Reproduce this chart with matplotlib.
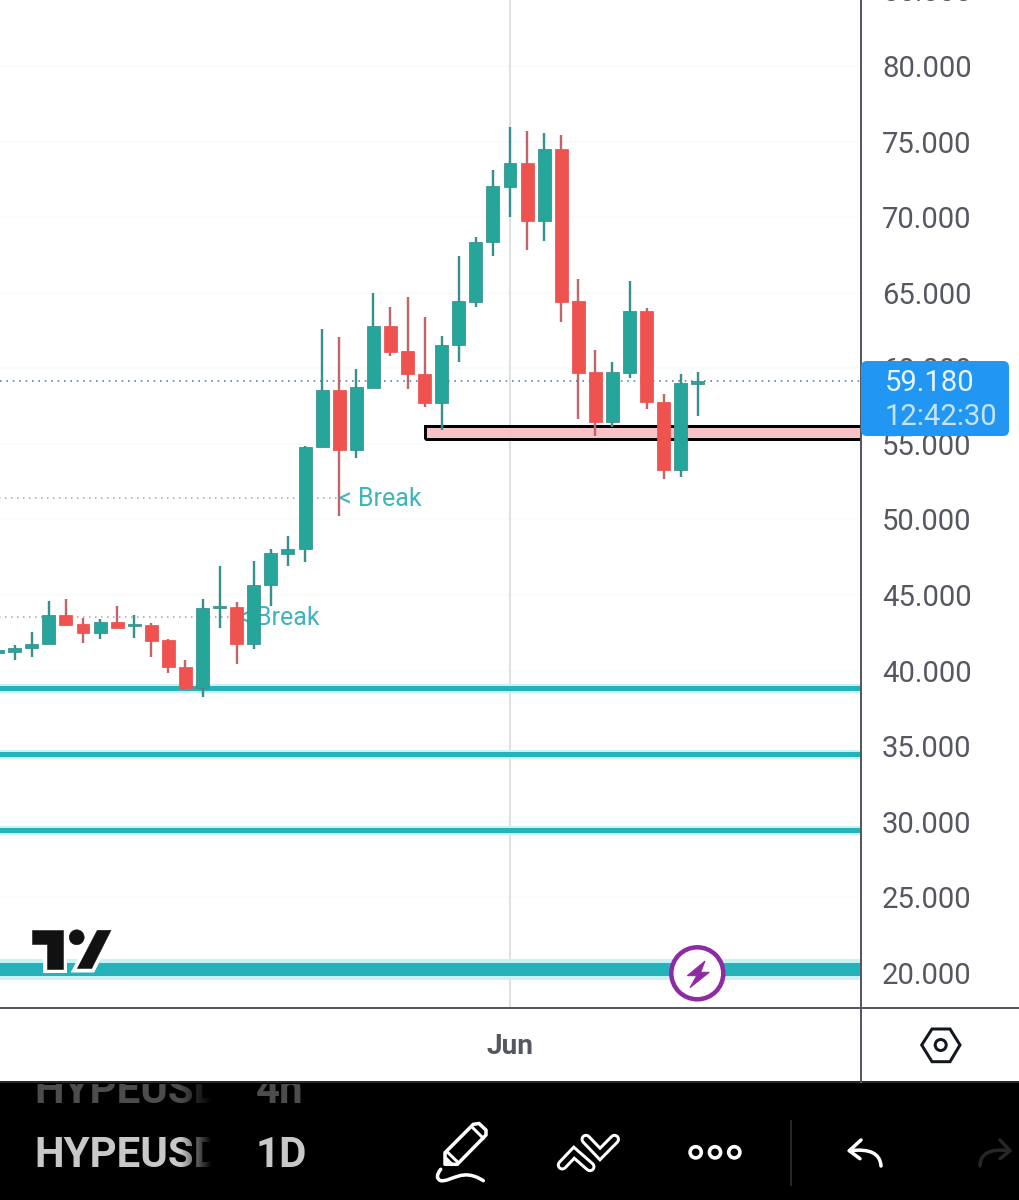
import numpy as np
from matplotlib import pyplot as plt
from matplotlib.patches import Circle, FancyBboxPatch, PathPatch, Polygon, Rectangle
from matplotlib.path import Path

plt.rcParams["font.family"] = ["Roboto", "DejaVu Sans"]

# bar index relative to the Jun bar
bars = list(range(-30, 12))
opens = [41.20, 41.25, 41.48, 41.74, 43.68, 43.09, 42.47, 43.24, 42.95, 43.00, 42.01, 40.24, 38.83, 44.14,
         44.19, 41.78, 45.69, 47.72, 48.05, 54.79, 58.57, 54.60, 58.72, 62.80, 61.13, 59.62, 57.73, 61.54,
         64.41, 68.36, 72.01, 73.60, 69.76, 74.49, 64.43, 59.74, 56.47, 59.71, 63.81, 57.79, 53.27, 58.98]
highs = [41.40, 41.70, 42.58, 44.63, 44.76, 43.50, 43.44, 44.30, 43.68, 43.13, 42.07, 40.69, 44.76, 46.94,
         44.52, 47.23, 48.05, 48.91, 54.86, 62.62, 62.07, 59.93, 64.98, 64.05, 64.74, 63.37, 62.14, 67.43,
         68.69, 73.10, 75.98, 75.68, 75.55, 75.43, 65.93, 61.19, 60.44, 65.76, 63.99, 58.32, 59.60, 59.73]
lows = [41.10, 40.70, 40.92, 41.74, 42.97, 41.85, 42.11, 42.84, 42.16, 40.92, 39.87, 38.83, 38.24, 42.80,
        40.42, 41.41, 44.30, 46.92, 47.17, 54.79, 50.23, 54.09, 58.68, 60.83, 58.65, 57.46, 55.90, 60.40,
        64.04, 67.45, 70.03, 67.83, 68.44, 63.08, 56.67, 55.54, 56.14, 59.34, 57.33, 52.66, 52.83, 56.85]
closes = [41.35, 41.52, 41.76, 43.68, 43.04, 42.47, 43.24, 42.84, 43.09, 41.98, 40.24, 38.83, 44.12, 44.28,
          41.78, 45.69, 47.76, 48.05, 54.82, 58.57, 54.60, 58.76, 62.80, 61.10, 59.60, 57.73, 61.56, 64.43,
          68.38, 72.04, 73.60, 69.76, 74.49, 64.41, 59.71, 56.47, 59.74, 63.81, 57.79, 53.27, 59.01, 59.18]

price_ticks = [20, 25, 30, 35, 40, 45, 50, 55, 60, 65, 70, 75, 80]
top_tick = 85
support_levels = [38.85, 34.49, 29.49]
heavy_level = 20.26
last_price = 59.18
countdown = "12:42:30"
zone_low = 55.32
zone_high = 56.18
zone_start = -4.98
break_prices = [51.42, 43.55]
break_bars = [-10, -16]

GREEN = "#26a69a"
RED = "#ef5350"
GREEN_WICK = "#38908c"
RED_WICK = "#bf666a"
TEAL = "#25b3bb"
HALO = "#c9f2f5"
AXIS = "#555860"


def px(n):
    return n * 0.72


fig = plt.figure(figsize=(10.19, 12), dpi=100, facecolor="white")
ax = fig.add_axes([0, 192 / 1200, 861 / 1019, 1008 / 1200])

ax.yaxis.tick_right()
ax.set_yticks(price_ticks)
ax.set_yticklabels(["%.3f" % p for p in price_ticks])
ax.set_xticks([0])
ax.set_xticklabels(["Jun"], fontweight="bold")
ax.tick_params(axis="y", length=0, pad=px(21), labelsize=px(29.3), labelcolor=AXIS)
ax.tick_params(axis="x", length=0, pad=px(25), labelsize=px(28), labelcolor=AXIS)
for side in ["top", "left", "right", "bottom"]:
    ax.spines[side].set_visible(False)

for p in price_ticks:
    ax.axhline(p, color="#f9fafb", lw=px(1.5), zorder=0)
ax.axvline(0, color="#d6d6d6", lw=px(1.5), zorder=1)

# support lines with their halo
for level in support_levels:
    ax.axhline(level, color=HALO, lw=px(9), zorder=2)
    ax.axhline(level, color=TEAL, lw=px(5), zorder=2.1)
ax.axhline(heavy_level, color=HALO, lw=px(21), zorder=2)
ax.axhline(heavy_level, color=TEAL, lw=px(13), zorder=2.1)

ax.axhline(last_price, color="#4f7fa6", lw=px(1.6), ls=(0, (1, 3)), zorder=2.2)
for price, bar in zip(break_prices, break_bars):
    ax.plot([-30, bar], [price, price], color="#9aa0ac", lw=px(1.5), ls=(0, (1, 3)), zorder=2.2)
    ax.annotate("< Break", (bar, price), xytext=(0, px(-1)), textcoords="offset points", color="#3fb4ba",
                fontsize=px(25), va="center", ha="left", zorder=2.3)

ax.add_patch(Rectangle((zone_start, zone_low), 40, zone_high - zone_low, facecolor="#f8bcc2", alpha=0.9,
                       edgecolor="none", zorder=2.4))
ax.add_patch(Rectangle((zone_start, zone_low), 40, zone_high - zone_low, facecolor="none",
                       edgecolor="black", lw=px(3), zorder=2.5))

bars = np.array(bars)
opens = np.array(opens)
highs = np.array(highs)
lows = np.array(lows)
closes = np.array(closes)
up = closes >= opens
ax.vlines(bars[up], lows[up], highs[up], color=GREEN_WICK, lw=px(2.4), zorder=3)
ax.vlines(bars[~up], lows[~up], highs[~up], color=RED_WICK, lw=px(2.4), zorder=3)
ax.bar(bars[up], (closes - opens)[up], bottom=opens[up], width=0.76, color=GREEN, edgecolor=GREEN_WICK,
       lw=px(0.8), zorder=3.1)
ax.bar(bars[~up], (closes - opens)[~up], bottom=opens[~up], width=0.76, color=RED, edgecolor=RED,
       lw=px(0.8), zorder=3.1)

# limits last, the ticks and bars above would widen them
ax.set_xlim(-29.86, 20.55)
ax.set_ylim(17.685, 84.365)

# the 85 label sits above the visible range, only its lower edge shows
ax.text(1 + 21 / 861, top_tick, "%.3f" % top_tick, transform=ax.get_yaxis_transform(), color=AXIS,
        fontsize=px(29.3), va="center_baseline", ha="left", clip_on=False)

# screen furniture lives on an overlay in pixel coordinates
ui = fig.add_axes([0, 0, 1, 1], facecolor="none")
ui.axis("off")

ui.plot([0, 1019], [1008, 1008], color=AXIS, lw=px(2))
ui.plot([861, 861], [0, 1082], color=AXIS, lw=px(2))
ui.add_patch(Rectangle((0, 1081), 1019, 119, facecolor="black", edgecolor="none"))
ui.add_patch(Rectangle((0, 1081), 1019, 2, facecolor="#2a2a2a", edgecolor="none"))

ui.add_patch(FancyBboxPatch((861, 361), 148, 75, boxstyle="round,pad=0,rounding_size=6",
                            facecolor="#2196f3", edgecolor="none", zorder=4))
ui.text(885, 383, "%.3f" % last_price, color="#e8f4fe", fontsize=px(29.3), va="center", zorder=5)
ui.text(885, 417, countdown, color="#c4e4fc", fontsize=px(29.3), va="center", zorder=5)

# TradingView mark
logo_t = [(32, 930.3), (63.5, 930.3), (63.5, 968.5), (46.7, 968.5), (46.7, 943.5), (32, 943.5)]
logo_slash = [(97.3, 930.3), (111, 930.3), (91.7, 968.5), (77.3, 968.5)]
for edge, lw, z in [("white", 8, 4), ("#111111", 0.5, 4.5)]:
    ui.add_patch(Polygon(logo_t, facecolor="#111111", edgecolor=edge, lw=px(lw), zorder=z))
    ui.add_patch(Polygon(logo_slash, facecolor="#111111", edgecolor=edge, lw=px(lw), zorder=z))
    ui.add_patch(Circle((76.7, 937.3), 7.5, facecolor="#111111", edgecolor=edge, lw=px(lw), zorder=z))

# purple bolt badge
ui.add_patch(Circle((697.3, 973.3), 26, facecolor="white", edgecolor="#8e2aa3", lw=px(4.5), zorder=4))
ui.add_patch(Polygon([(705, 961), (687.3, 975.7), (696.7, 975.7), (690, 987.7), (709.3, 972.3), (700.7, 972.3)],
                     facecolor="#8e2aa3", edgecolor="#8e2aa3", lw=px(1), zorder=5))

# chart settings hexagon
ui.add_patch(Polygon([(921.7, 1045), (932, 1029), (950, 1029), (960, 1045), (950, 1061.7), (932, 1061.7)],
                     facecolor="white", edgecolor="#131722", lw=px(3), zorder=4))
ui.add_patch(Circle((940.7, 1045), 5.5, facecolor="white", edgecolor="#131722", lw=px(3), zorder=5))

# symbol picker
clip_rows = Rectangle((0, 1084), 212, 116, transform=ui.transData)
clip_times = Rectangle((212, 1084), 200, 116, transform=ui.transData)
for base, colour, name, frame in [(1103, "#4c4c4c", "HYPEUSD", "4h"), (1166.7, "#c8c8c8", "HYPEUSD", "1D")]:
    sym = ui.text(34, base, name, color=colour, fontsize=px(42), fontweight=600, va="baseline", clip_on=True)
    sym.set_clip_path(clip_rows)
    tf = ui.text(256, base, frame, color=colour, fontsize=px(42), fontweight=600, va="baseline", clip_on=True)
    tf.set_clip_path(clip_times)
fade = np.zeros((1, 32, 4))
fade[0, :, 3] = np.linspace(0, 1, 32)
ui.imshow(fade, extent=(180, 212, 1180, 1084), aspect="auto", zorder=3)

# pencil
white = dict(facecolor="none", edgecolor="white", lw=px(3.5), capstyle="round", joinstyle="round", zorder=4)
ui.add_patch(Polygon([(445, 1152.7), (473.3, 1124.3), (479, 1123.5), (486, 1130), (486, 1135), (457.3, 1164.3),
                      (445, 1164.3)], **white))
ui.plot([473.3, 483.3], [1128.3, 1138.3], color="white", lw=px(3))
ui.plot([448, 457.3], [1152.7, 1161.7], color="white", lw=px(3))
ui.add_patch(Polygon([(445, 1164.3), (445, 1155), (454, 1164.3)], facecolor="white", edgecolor="none", zorder=4))
ui.add_patch(PathPatch(Path([(440.7, 1169.3), (434, 1178), (440.7, 1180.7), (452, 1182), (462, 1167), (483.3, 1180.7)],
                            [Path.MOVETO, Path.CURVE3, Path.CURVE3, Path.CURVE4, Path.CURVE4, Path.CURVE4]), **white))

# drawing tools chevrons
chevron_a = ([562.3, 574, 590], [1165, 1152.7, 1166.7])
chevron_b = ([586, 600, 614.5], [1139.3, 1154, 1139.3])
for xs, ys in [chevron_a, chevron_b]:
    ui.plot(xs, ys, color="white", lw=px(11), solid_capstyle="round", solid_joinstyle="miter", zorder=4)
for xs, ys in [chevron_a, chevron_b]:
    ui.plot(xs, ys, color="black", lw=px(5), solid_capstyle="round", solid_joinstyle="miter", zorder=4.5)

for cx in [695.7, 715, 734.3]:
    ui.add_patch(Circle((cx, 1152.3), 5.6, facecolor="none", edgecolor="white", lw=px(3.6), zorder=4))

ui.plot([790.7, 790.7], [1121, 1185], color="#262626", lw=px(2))

# undo and redo
ui.add_patch(PathPatch(Path([(849.3, 1150.7), (880, 1147), (881, 1166)], [Path.MOVETO, Path.CURVE3, Path.CURVE3]),
                       facecolor="none", edgecolor="white", lw=px(3.5), capstyle="round", zorder=4))
ui.plot([861, 849.3, 860], [1140, 1150.7, 1158.7], color="white", lw=px(3.5), solid_capstyle="round")
ui.add_patch(PathPatch(Path([(1010, 1150.7), (980, 1147), (980, 1166)], [Path.MOVETO, Path.CURVE3, Path.CURVE3]),
                       facecolor="none", edgecolor="#262626", lw=px(3.5), capstyle="round", zorder=4))
ui.plot([1000, 1010, 1000], [1140, 1150.7, 1158.7], color="#262626", lw=px(3.5), solid_capstyle="round")

ui.set_xlim(0, 1019)
ui.set_ylim(1200, 0)

fig.savefig("out.png", dpi=100)
